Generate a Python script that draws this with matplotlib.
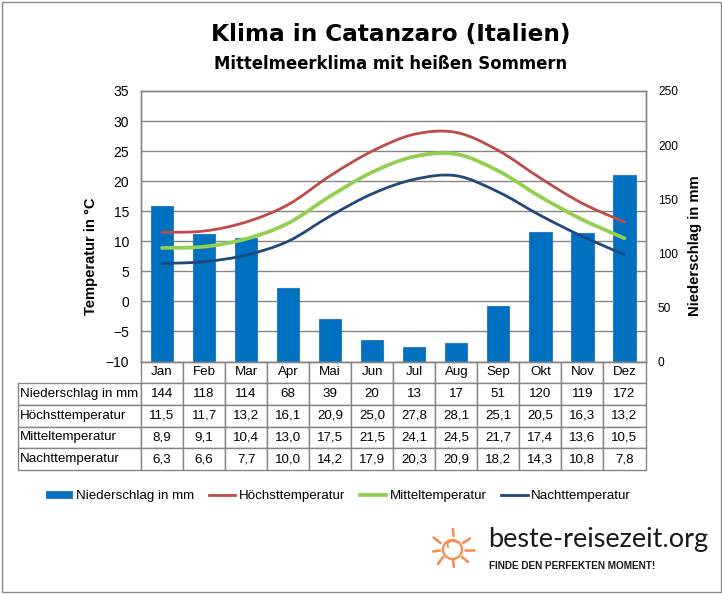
#!/usr/bin/env python3

import matplotlib
matplotlib.use('Agg')
import matplotlib.pyplot as plt
import numpy as np
from matplotlib.lines import Line2D
from matplotlib.patches import Arc, Circle, PathPatch, Patch, Rectangle
from matplotlib.path import Path
from matplotlib.table import Table

months = ['Jan', 'Feb', 'Mar', 'Apr', 'Mai', 'Jun', 'Jul', 'Aug', 'Sep', 'Okt', 'Nov', 'Dez']
niederschlag = [144, 118, 114, 68, 39, 20, 13, 17, 51, 120, 119, 172]
hoechst = [11.5, 11.7, 13.2, 16.1, 20.9, 25.0, 27.8, 28.1, 25.1, 20.5, 16.3, 13.2]
mittel = [8.9, 9.1, 10.4, 13.0, 17.5, 21.5, 24.1, 24.5, 21.7, 17.4, 13.6, 10.5]
nacht = [6.3, 6.6, 7.7, 10.0, 14.2, 17.9, 20.3, 20.9, 18.2, 14.3, 10.8, 7.8]

temp_ticks = list(range(-10, 40, 5))
rain_ticks = list(range(0, 300, 50))

BLUE = '#0070C0'
RED = '#BE4B48'
GREEN = '#92D050'
NAVY = '#1F497D'
GRID = '#868686'
ORANGE = '#F58B4C'

W, H = 722, 594
plt.rcParams['font.family'] = ['Liberation Sans', 'DejaVu Sans']

fig = plt.figure(figsize=(W / 100, H / 100), dpi=100, facecolor='white')

# Plot area in pixels of the reference.
left, right, top, bottom = 141, 645.5, 91, 361.5
rect = [left / W, 1 - bottom / H, (right - left) / W, (bottom - top) / H]


def to_rain(t):
    return (t + 10) * 250 / 45


def smooth_path(xs, ys):
    """Bezier through the points, same kind of smoothing as the Excel lines."""
    pts = np.column_stack([xs, ys])
    verts = [pts[0]]
    codes = [Path.MOVETO]
    for i in range(len(pts) - 1):
        before = pts[max(i - 1, 0)]
        after = pts[min(i + 2, len(pts) - 1)]
        verts.append(pts[i] + (pts[i + 1] - before) / 6)
        verts.append(pts[i + 1] - (after - pts[i]) / 6)
        verts.append(pts[i + 1])
        codes += [Path.CURVE4] * 3
    return Path(verts, codes)


# Bars sit below, with the temperature grid behind them.
ax_rain = fig.add_axes(rect)
ax_temp = fig.add_axes(rect, sharex=ax_rain)
ax_temp.patch.set_visible(False)

x = np.arange(len(months))
ax_rain.bar(x, niederschlag, width=0.53, color=BLUE, edgecolor='#2F7FBF', linewidth=0.8)
ax_rain.set_xlim(-0.5, 11.5)
ax_rain.set_ylim(0, 250)
ax_rain.yaxis.tick_right()
ax_rain.set_yticks(rain_ticks)
ax_rain.set_yticks([to_rain(t) for t in temp_ticks], minor=True)
ax_rain.grid(True, which='minor', axis='y', color=GRID, lw=1)
ax_rain.set_axisbelow(True)
ax_rain.tick_params(axis='y', which='both', length=0)
ax_rain.tick_params(axis='y', which='major', labelsize=8.6, pad=9)
ax_rain.tick_params(axis='x', length=0, labelbottom=False)

for series, color, lw in [(hoechst, RED, 2.0), (mittel, GREEN, 2.7), (nacht, NAVY, 2.0)]:
    ax_temp.add_patch(PathPatch(smooth_path(x, series), fill=False, edgecolor=color,
                                lw=lw, capstyle='round', joinstyle='round'))
ax_temp.set_ylim(-10, 35)
ax_temp.set_yticks(temp_ticks)
ax_temp.tick_params(axis='y', length=0, labelsize=10, pad=8.5)
ax_temp.tick_params(axis='x', length=0, labelbottom=False)

for ax in (ax_rain, ax_temp):
    for spine in ax.spines.values():
        spine.set_color(GRID)
        spine.set_linewidth(1)

# Data table below the plot, with the header row only over the months.
table_left, table_right, table_top, table_bottom = 17.5, 645.5, 361.5, 470
label_w = left - table_left
col_w = (right - left) / 12
row_h = (table_bottom - table_top) / 5
rows = [('Niederschlag in mm', [str(v) for v in niederschlag]),
        ('Höchsttemperatur', [f'{v:.1f}'.replace('.', ',') for v in hoechst]),
        ('Mitteltemperatur', [f'{v:.1f}'.replace('.', ',') for v in mittel]),
        ('Nachttemperatur', [f'{v:.1f}'.replace('.', ',') for v in nacht])]

table = Table(ax_temp, bbox=[(table_left - left) / (right - left),
                             (bottom - table_bottom) / (bottom - top),
                             (table_right - table_left) / (right - left),
                             (table_bottom - table_top) / (bottom - top)])
for c, month in enumerate(months):
    table.add_cell(0, c + 1, col_w, row_h, text=month, loc='center', facecolor='white', edgecolor=GRID)
for r, (label, values) in enumerate(rows, start=1):
    cell = table.add_cell(r, 0, label_w, row_h, text=label, loc='left', facecolor='white', edgecolor=GRID)
    cell.PAD = 0.022
    for c, value in enumerate(values):
        table.add_cell(r, c + 1, col_w, row_h, text=value, loc='center', facecolor='white', edgecolor=GRID)
table.auto_set_font_size(False)
table.set_fontsize(9.6)
ax_temp.add_table(table)

# Pixel-coordinate overlay for the titles, axis titles, frame and logo.
ov = fig.add_axes([0, 0, 1, 1], zorder=5)
ov.set_xlim(0, W)
ov.set_ylim(H, 0)
ov.axis('off')
ov.add_patch(Rectangle((1.5, 1.5), W - 3, H - 3.5, fill=False, edgecolor='#8C8C8C', lw=1))

ov.text(390.5, 35, 'Klima in Catanzaro (Italien)', ha='center', va='center',
        family='DejaVu Sans', weight='bold', fontsize=16.7)
ov.text(390.5, 64, 'Mittelmeerklima mit heißen Sommern', ha='center', va='center',
        family='DejaVu Sans', weight='bold', fontsize=11.9)
ov.text(91, 256, 'Temperatur in °C', rotation=90, ha='center', va='center', weight='bold', fontsize=10.6)
ov.text(695, 246, 'Niederschlag in mm', rotation=90, ha='center', va='center', weight='bold', fontsize=10.7)

handles = [Patch(facecolor=BLUE, edgecolor='#2F7FBF', lw=0.8),
           Line2D([], [], color=RED, lw=2),
           Line2D([], [], color=GREEN, lw=2.7),
           Line2D([], [], color=NAVY, lw=2)]
labels = [rows[0][0], rows[1][0], rows[2][0], rows[3][0]]
ov.legend(handles, labels, loc='center', bbox_to_anchor=(338.5 / W, 1 - 496 / H),
          bbox_transform=fig.transFigure, ncol=4, frameon=False, fontsize=9.6,
          handlelength=2.0, handleheight=0.4, handletextpad=0.25, columnspacing=1.1)

# Logo
for x0, y0, x1, y1 in [(453, 529, 453.5, 536), (463, 543, 470, 538.5), (465, 550, 474, 550),
                       (462, 557, 468, 562), (453, 560, 454, 567), (443, 557, 438, 564),
                       (433, 551.5, 440, 550.5), (433.5, 537.5, 440.5, 543)]:
    ov.plot([x0, x1], [y0, y1], color=ORANGE, lw=1.8, solid_capstyle='round')
ov.add_patch(Circle((452.5, 549.5), 9.5, fill=False, edgecolor=ORANGE, lw=1.6))
ov.add_patch(Arc((453, 545), 11, 8, theta1=150, theta2=340, edgecolor=ORANGE, lw=1.3))
ov.text(488, 547, 'beste-reisezeit.org', ha='left', va='baseline', family='Lato', weight='normal',
        fontsize=19.5, color='#1a1a1a')
ov.text(489, 566, 'FINDE DEN PERFEKTEN MOMENT!', ha='left', va='center', family='Liberation Sans', weight='bold',
        fontsize=7.2, color='#1a1a1a')

fig.savefig('out.png', dpi=100)
